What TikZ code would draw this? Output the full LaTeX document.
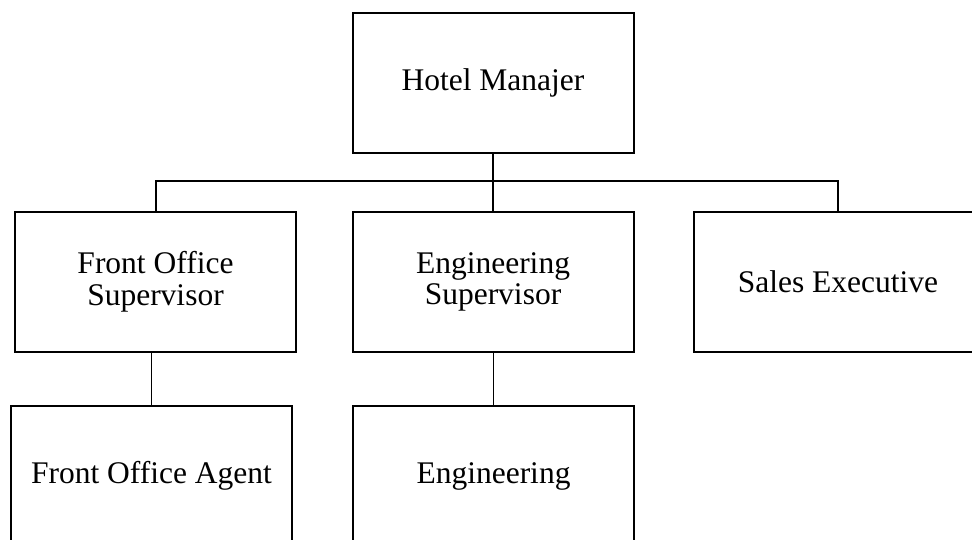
\documentclass[tikz,border=0pt]{standalone}
\usepackage{fontspec}
\setmainfont{Liberation Serif}
\begin{document}
\begin{tikzpicture}[x=1pt,y=-1pt,
  box/.style={draw=black,line width=2pt,rectangle,minimum width=281pt,minimum height=140pt,inner sep=0pt,align=center,
    font=\fontsize{31.5}{31.6}\selectfont},
  thickline/.style={line width=2pt},
  thinline/.style={line width=1pt}]
\useasboundingbox (0,0) rectangle (972,540);
\clip (0,0) rectangle (972,540);
\node[box] (hm) at (493,83) {Hotel Manajer};
\node[box] (fos) at (155.5,282) {Front Office\\Supervisor};
\node[box] (es) at (493,282) {Engineering\\Supervisor};
\node[box,minimum width=288pt] (se) at (838,282) {Sales Executive};
\node[box] (foa) at (151.5,476) {Front Office Agent};
\node[box] (eng) at (493.5,476) {Engineering};
\draw[thickline] (hm.south) -- (es.north);
\draw[thickline,line join=miter] (fos.north) -- ++(0,-30) -| (se.north);
\draw[thinline] (fos.south -| foa.north) -- (foa.north);
\draw[thinline] (es.south -| eng.north) -- (eng.north);
\end{tikzpicture}
\end{document}
